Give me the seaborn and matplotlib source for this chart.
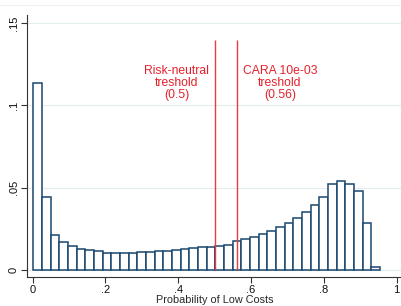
import seaborn as sns
import matplotlib.pyplot as plt
import numpy as np
import pandas as pd

# histogram bins (fraction of observations per bin)
bin_start = 0.002
bin_width = 0.0238
fractions = [
    0.1138, 0.0445, 0.0211, 0.0172, 0.0144, 0.0128, 0.0119, 0.0113, 0.0101, 0.0101,
    0.0103, 0.0103, 0.0107, 0.0111, 0.0115, 0.0117, 0.0121, 0.0126, 0.0130, 0.0136,
    0.0140, 0.0146, 0.0154, 0.0174, 0.0186, 0.0198, 0.0217, 0.0237, 0.0259, 0.0286,
    0.0314, 0.0352, 0.0395, 0.0441, 0.0522, 0.0539, 0.0524, 0.0482, 0.0284, 0.0020,
]
thresholds = [0.5, 0.56]
threshold_labels = ["Risk-neutral\ntreshold\n(0.5)", "CARA 10e-03\ntreshold\n(0.56)"]
label_x = [0.396, 0.679]
x_ticks = [0, 0.2, 0.4, 0.6, 0.8, 1]
x_ticklabels = ["0", ".2", ".4", ".6", ".8", "1"]
y_ticks = [0, 0.05, 0.1, 0.15]
y_ticklabels = ["0", ".05", ".1", ".15"]

edges = bin_start + bin_width * np.arange(len(fractions) + 1)
df = pd.DataFrame({'p': (edges[:-1] + edges[1:]) / 2, 'frac': fractions})

sns.set_style("white")
plt.rcParams['font.family'] = ['Liberation Sans', 'DejaVu Sans']

fig = plt.figure(figsize=(4.02, 3.06), dpi=100)
ax = fig.add_axes([0.067, 0.095, 0.933, 0.856])

navy = '#1a476f'
sns.histplot(data=df, x='p', weights='frac', bins=list(edges), stat='count',
             facecolor='white', edgecolor=navy, linewidth=1.1, alpha=1, ax=ax, zorder=3)

for t, lab, lx in zip(thresholds, threshold_labels, label_x):
    ax.vlines(t, 0, 0.1397, color='#e63c42', linewidth=1.0, zorder=4)
    ax.text(lx, 0.1135, lab, color='#e8202a', fontsize=8.7, ha='center', va='center',
            linespacing=1.0)

ax.set_xlim(-0.0157, 1.0146)
ax.set_ylim(-0.0043, 0.1549)
ax.set_xticks(x_ticks)
ax.set_xticklabels(x_ticklabels, fontsize=8)
ax.set_yticks(y_ticks)
ax.set_yticklabels(y_ticklabels, fontsize=8, rotation=90, va='center')
ax.set_xlabel("Probability of Low Costs", fontsize=7.8, labelpad=0)
ax.set_ylabel("")

ax.grid(axis='y', color='#e3ecef', linewidth=0.8, zorder=0)
ax.set_axisbelow(True)
for side in ['top', 'right']:
    ax.spines[side].set_visible(False)
for side in ['left', 'bottom']:
    ax.spines[side].set_color('#333333')
    ax.spines[side].set_linewidth(0.8)
ax.tick_params(axis='both', direction='out', length=4, width=0.8, color='#333333',
               labelcolor='#111111', pad=2, left=True, bottom=True)

fig.add_artist(plt.Line2D([0, 1], [1 - 5 / 306] * 2, color='#eef2f3', linewidth=0.8,
                          transform=fig.transFigure))

fig.savefig('out.png', dpi=100)
